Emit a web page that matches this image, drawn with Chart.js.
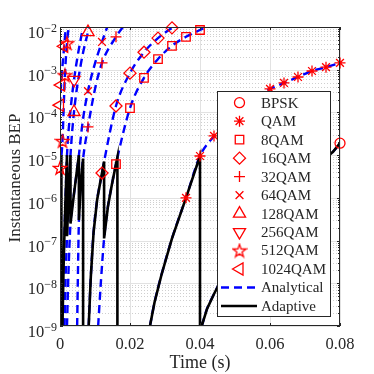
<!DOCTYPE html>
<html>
<head>
<meta charset="utf-8">
<script src="https://cdn.jsdelivr.net/npm/chart.js@4.4.1/dist/chart.umd.min.js"></script>
<style>
	html, body { margin: 0; padding: 0; background: #fff; }
</style>
</head>
<body>
<canvas id="myChart" width="374" height="374"></canvas>
<script>
// all values are [time (s), log10(BEP)]
const modNames = ["BPSK", "QAM", "8QAM", "16QAM", "32QAM", "64QAM", "128QAM", "256QAM", "512QAM", "1024QAM"];

const bpskLine = [[0.0405, -9.0], [0.042, -8.6], [0.044, -8.25], [0.046, -7.93], [0.050, -7.35], [0.055, -6.75], [0.060, -6.25], [0.065, -5.85], [0.070, -5.5], [0.075, -5.13], [0.078, -4.92], [0.080, -4.72]];
const bpskMarks = [[0.080, -4.72]];

const qamLine = [[0.0257, -9.0], [0.027, -8.45], [0.029, -7.8], [0.032, -6.95], [0.036, -6.0], [0.040, -5.02], [0.044, -4.55], [0.048, -4.15], [0.052, -3.85], [0.056, -3.63], [0.060, -3.45], [0.064, -3.31], [0.068, -3.17], [0.072, -3.03], [0.076, -2.94], [0.080, -2.84]];
const qamMarks = [[0.036, -6.0], [0.040, -5.02], [0.044, -4.55], [0.060, -3.45], [0.064, -3.31], [0.068, -3.17], [0.072, -3.03], [0.076, -2.94], [0.080, -2.84]];

const qam8Line = [[0.0109, -9.0], [0.0117, -7.95], [0.0126, -6.95], [0.0137, -6.2], [0.0148, -5.7], [0.016, -5.21], [0.020, -3.90], [0.024, -3.19], [0.028, -2.75], [0.032, -2.44], [0.036, -2.23], [0.040, -2.07], [0.043, -1.95]];
const qam8Marks = [[0.016, -5.21], [0.020, -3.90], [0.024, -3.19], [0.028, -2.75], [0.032, -2.44], [0.036, -2.23], [0.040, -2.07]];

const qam16Line = [[0.0082, -9.0], [0.0088, -7.85], [0.0096, -6.8], [0.0106, -6.05], [0.0114, -5.68], [0.012, -5.42], [0.0126, -5.15], [0.016, -3.85], [0.020, -3.08], [0.024, -2.59], [0.028, -2.26], [0.032, -2.02], [0.034, -1.92]];
const qam16Marks = [[0.012, -5.42], [0.016, -3.85], [0.020, -3.08], [0.024, -2.59], [0.028, -2.26], [0.032, -2.02]];

const qam32Line = [[0.0049, -9.0], [0.0051, -7.9], [0.0054, -6.52], [0.006, -5.6], [0.0066, -5.08], [0.008, -4.34], [0.010, -3.45], [0.012, -2.84], [0.016, -2.23], [0.018, -2.0], [0.019, -1.9]];
const qam32Marks = [[0.008, -4.34], [0.012, -2.84], [0.016, -2.23]];

const qam64Line = [[0.0020, -9.0], [0.0024, -7.8], [0.0030, -6.6], [0.0040, -5.9], [0.0054, -5.0], [0.0065, -4.2], [0.008, -3.5], [0.010, -2.85], [0.012, -2.35], [0.0135, -2.0], [0.014, -1.9]];
const qam64Marks = [[0.008, -3.5], [0.012, -2.35]];

const qam128Line = [[0.0013, -9.0], [0.0016, -7.9], [0.0020, -6.9], [0.0025, -5.85], [0.0030, -5.0], [0.0040, -3.99], [0.0060, -2.85], [0.0080, -2.12], [0.0086, -1.95]];
const qam128Marks = [[0.004, -3.99], [0.008, -2.12]];

const qam256Line = [[0.0007, -9.0], [0.0010, -7.7], [0.0013, -6.75], [0.0016, -5.95], [0.0020, -5.0], [0.0030, -3.95], [0.0040, -3.24], [0.0050, -2.7], [0.0060, -2.25], [0.0066, -2.0], [0.0069, -1.9]];
const qam256Marks = [[0.004, -3.24]];

const qam512Line = [[0, -5.3], [0.0004, -5.02], [0.0007, -4.67], [0.0014, -3.13], [0.0020, -2.38], [0.0025, -2.0], [0.0027, -1.9]];
const qam512Marks = [[0, -5.3], [0.0007, -4.67], [0.0014, -3.13], [0.002, -2.38]];

const qam1024Line = [[0, -3.83], [0.0003, -3.36], [0.0012, -2.45], [0.0017, -2.0], [0.0019, -1.9]];
const qam1024Marks = [[0, -3.83], [0.0003, -3.36], [0.0012, -2.45]];

// adaptive scheme: drops to the next lower order when BEP passes 1e-5
const adaptive = [
	[0, -5.3], [0.0004, -5.02], [0.0004, -10],
	[0.0007, -9.0], [0.0010, -7.7], [0.0013, -6.75], [0.0016, -5.95], [0.0020, -5.0], [0.0020, -6.9],
	[0.0025, -5.85], [0.0030, -5.0], [0.0030, -6.6],
	[0.0040, -5.9], [0.0054, -5.0], [0.0054, -6.52],
	[0.0060, -5.6], [0.0066, -5.08], [0.0066, -10],
	[0.0082, -9.0], [0.0088, -7.85], [0.0096, -6.8], [0.0106, -6.05], [0.0114, -5.68], [0.012, -5.42], [0.0126, -5.15], [0.0126, -6.95],
	[0.0137, -6.2], [0.0148, -5.7], [0.016, -5.21], [0.0164, -5.05], [0.0164, -10],
	[0.0257, -9.0], [0.027, -8.45], [0.029, -7.8], [0.032, -6.95], [0.036, -6.0], [0.040, -5.02], [0.040, -10],
	[0.0405, -9.0], [0.042, -8.6], [0.044, -8.25], [0.046, -7.93], [0.050, -7.35], [0.055, -6.75], [0.060, -6.25], [0.065, -5.85], [0.070, -5.5], [0.075, -5.13], [0.078, -4.92], [0.080, -4.72],
];

const xTicks = [0, 0.02, 0.04, 0.06, 0.08];
const xTickLabels = ["0", "0.02", "0.04", "0.06", "0.08"];
const yTickExps = [-9, -8, -7, -6, -5, -4, -3, -2];

const curves = [bpskLine, qamLine, qam8Line, qam16Line, qam32Line, qam64Line, qam128Line, qam256Line, qam512Line, qam1024Line];
const marks = [bpskMarks, qamMarks, qam8Marks, qam16Marks, qam32Marks, qam64Marks, qam128Marks, qam256Marks, qam512Marks, qam1024Marks];

const RED = "#ff0000";
const BLUE = "#0000ff";
const INK = "#262626";
const FONT = '"Liberation Serif", "Times New Roman", serif';

// pentagram marker (matlab 'p'), chart.js has none
function makeStar() {
	const c = document.createElement("canvas");
	c.width = 16;
	c.height = 16;
	const g = c.getContext("2d");
	g.strokeStyle = RED;
	g.lineWidth = 1.3;
	g.beginPath();
	for (let i = 0; i < 10; i++) {
		const r = i % 2 ? 2.7 : 6.8;
		const a = -Math.PI / 2 + i * Math.PI / 5;
		const px = 8 + r * Math.cos(a);
		const py = 8.6 + r * Math.sin(a);
		if (i === 0) g.moveTo(px, py); else g.lineTo(px, py);
	}
	g.closePath();
	g.stroke();
	return c;
}
const starImg = makeStar();

// marker look per modulation
const markerStyle = [
	{ pointStyle: "circle", radius: 5, rotation: 0 },
	{ pointStyle: "star", radius: 5.5, rotation: 0 },
	{ pointStyle: "rect", radius: 6, rotation: 0 },
	{ pointStyle: "rectRot", radius: 6, rotation: 0 },
	{ pointStyle: "cross", radius: 5.5, rotation: 0 },
	{ pointStyle: "crossRot", radius: 5.5, rotation: 0 },
	{ pointStyle: "triangle", radius: 7, rotation: 0 },
	{ pointStyle: "triangle", radius: 7, rotation: 180 },
	{ pointStyle: starImg, radius: 7, rotation: 0 },
	{ pointStyle: "triangle", radius: 7, rotation: 270 },
];

const toPts = (arr) => arr.map(([t, e]) => ({ x: t, y: Math.pow(10, e) }));

const datasets = [];
marks.forEach((m, i) => {
	datasets.push({
		label: modNames[i],
		data: toPts(m),
		showLine: false,
		pointStyle: markerStyle[i].pointStyle,
		pointRadius: markerStyle[i].radius,
		pointRotation: markerStyle[i].rotation,
		pointBorderColor: RED,
		pointBackgroundColor: "rgba(0,0,0,0)",
		pointBorderWidth: 1.3,
		pointHoverRadius: markerStyle[i].radius,
		clip: false,
		order: 0,
	});
});
datasets.push({
	label: "Adaptive",
	data: toPts(adaptive),
	showLine: true,
	borderColor: "#000",
	borderWidth: 2.6,
	pointRadius: 0,
	tension: 0,
	clip: 0,
	order: 1,
});
curves.forEach((c, i) => {
	datasets.push({
		label: modNames[i] + " analytical",
		data: toPts(c),
		showLine: true,
		borderColor: BLUE,
		borderWidth: 2.4,
		borderDash: [8, 5],
		pointRadius: 0,
		cubicInterpolationMode: "monotone",
		clip: 0,
		order: 2,
	});
});

function hline(ctx, x1, x2, y) {
	ctx.beginPath();
	ctx.moveTo(x1, y);
	ctx.lineTo(x2, y);
	ctx.stroke();
}
function vline(ctx, x, y1, y2) {
	ctx.beginPath();
	ctx.moveTo(x, y1);
	ctx.lineTo(x, y2);
	ctx.stroke();
}

const frame = {
	id: "frame",
	beforeDatasetsDraw(chart) {
		const { ctx, chartArea: a, scales } = chart;
		const x = scales.x, y = scales.y;
		ctx.save();
		// minor log grid, dotted
		ctx.strokeStyle = "#cfcfcf";
		ctx.lineWidth = 1;
		ctx.setLineDash([1, 2]);
		for (let e = -9; e < -2; e++) {
			for (let k = 2; k <= 9; k++) {
				const py = Math.round(y.getPixelForValue(k * Math.pow(10, e))) + 0.5;
				hline(ctx, a.left, a.right, py);
			}
		}
		ctx.setLineDash([]);
		ctx.strokeStyle = "#e2e2e2";
		yTickExps.forEach((e) => {
			const py = Math.round(y.getPixelForValue(Math.pow(10, e))) + 0.5;
			hline(ctx, a.left, a.right, py);
		});
		xTicks.forEach((t) => {
			const px = Math.round(x.getPixelForValue(t)) + 0.5;
			vline(ctx, px, a.top, a.bottom);
		});
		ctx.restore();
	},
	afterDatasetsDraw(chart) {
		const { ctx, chartArea: a, scales } = chart;
		const x = scales.x, y = scales.y;
		ctx.save();
		ctx.strokeStyle = INK;
		ctx.fillStyle = INK;
		ctx.lineWidth = 1;
		// axes box
		ctx.strokeRect(a.left + 0.5, a.top + 0.5, a.right - a.left - 1, a.bottom - a.top - 1);
		// inward ticks
		xTicks.forEach((t) => {
			const px = Math.round(x.getPixelForValue(t)) + 0.5;
			vline(ctx, px, a.bottom, a.bottom - 3);
			vline(ctx, px, a.top, a.top + 3);
		});
		for (let e = -9; e <= -2; e++) {
			for (let k = 1; k <= 9; k++) {
				if (e === -2 && k > 1) break;
				const py = Math.round(y.getPixelForValue(k * Math.pow(10, e))) + 0.5;
				const len = k === 1 ? 3 : 2;
				hline(ctx, a.left, a.left + len, py);
				hline(ctx, a.right - len, a.right, py);
			}
		}
		// x tick labels
		ctx.font = "16.5px " + FONT;
		ctx.textAlign = "center";
		ctx.textBaseline = "alphabetic";
		xTicks.forEach((t, i) => {
			ctx.fillText(xTickLabels[i], x.getPixelForValue(t), a.bottom + 23);
		});
		// y tick labels 10^e
		yTickExps.forEach((e) => {
			const py = y.getPixelForValue(Math.pow(10, e));
			const sup = "\u2212" + String(-e);
			ctx.font = "16.5px " + FONT;
			const wb = ctx.measureText("10").width;
			ctx.font = "12px " + FONT;
			const ws = ctx.measureText(sup).width;
			const x0 = a.left - 3 - ws - wb;
			ctx.textAlign = "left";
			ctx.font = "16.5px " + FONT;
			ctx.fillText("10", x0, py + 11);
			ctx.font = "12px " + FONT;
			ctx.fillText(sup, x0 + wb, py + 4.5);
		});
		// axis titles
		ctx.font = "18px " + FONT;
		ctx.textAlign = "center";
		ctx.fillText("Time (s)", (a.left + a.right) / 2, 368);
		ctx.save();
		ctx.font = "17px " + FONT;
		ctx.translate(20, 178);
		ctx.rotate(-Math.PI / 2);
		ctx.fillText("Instantaneous BEP", 0, 0);
		ctx.restore();

		// legend box
		const lx = 217.5, ly = 91.5, lw = 113, lh = 225;
		ctx.fillStyle = "#fff";
		ctx.fillRect(lx, ly, lw, lh);
		ctx.strokeStyle = INK;
		ctx.strokeRect(lx, ly, lw, lh);
		const rowH = 18.48;
		const row0 = 102.7;
		const textX = 261;
		ctx.font = "15px " + FONT;
		ctx.textAlign = "left";
		ctx.textBaseline = "middle";
		modNames.forEach((name, i) => {
			const ry = row0 + i * rowH;
			const st = markerStyle[i];
			ctx.save();
			ctx.strokeStyle = RED;
			ctx.fillStyle = "rgba(0,0,0,0)";
			ctx.lineWidth = 1.3;
			Chart.helpers.drawPoint(ctx, { pointStyle: st.pointStyle, radius: st.radius, rotation: st.rotation, borderWidth: 1.3 }, 239.5, ry);
			ctx.restore();
			ctx.fillStyle = INK;
			ctx.fillText(name, textX, ry + 1);
		});
		let ry = row0 + 10 * rowH;
		ctx.strokeStyle = BLUE;
		ctx.lineWidth = 2.4;
		ctx.setLineDash([8, 5]);
		hline(ctx, 221, 257, ry);
		ctx.setLineDash([]);
		ctx.fillStyle = INK;
		ctx.fillText("Analytical", textX, ry + 1);
		ry += rowH;
		ctx.strokeStyle = "#000";
		ctx.lineWidth = 2.6;
		hline(ctx, 221, 257, ry);
		ctx.fillText("Adaptive", textX, ry + 1);
		ctx.restore();
	},
};

const ctx = document.getElementById("myChart");

let myChart = new Chart(ctx, {
	type: "scatter",
	data: { datasets: datasets },
	options: {
		responsive: false,
		animation: false,
		devicePixelRatio: 1,
		layout: {
			padding: { left: 60, top: 27, right: 34, bottom: 48 },
		},
		plugins: {
			legend: { display: false },
			tooltip: { enabled: false },
		},
		scales: {
			x: {
				type: "linear",
				min: 0,
				max: 0.08,
				display: false,
			},
			y: {
				type: "logarithmic",
				min: 1e-9,
				max: 1e-2,
				display: false,
			},
		},
	},
	plugins: [frame],
});
</script>
</body>
</html>
